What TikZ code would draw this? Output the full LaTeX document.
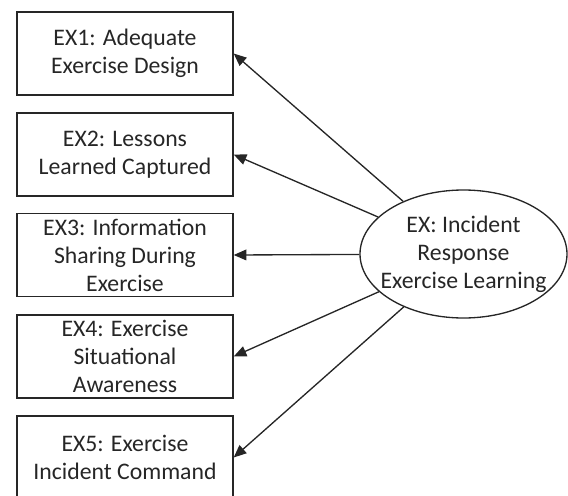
\documentclass[tikz,border=0pt]{standalone}
\usepackage{fontspec}
\setmainfont{Carlito}
\usetikzlibrary{shapes.geometric,arrows.meta}
\begin{document}
\begin{tikzpicture}[x=0.75pt,y=-0.75pt]
	\tikzstyle{indicator} = [draw=black!85, line width=1pt, minimum width=162pt, minimum height=62.25pt, inner sep=0, align=center, text=black!85, font=\fontsize{17.8}{21}\selectfont]
	\tikzstyle{latent} = [draw=black!85, line width=1pt, shape=ellipse, minimum width=155.25pt, minimum height=96pt, inner xsep=-8.6pt, inner ysep=0, align=center, text=black!85, font=\fontsize{17.8}{21}\selectfont]
	\tikzstyle{loading} = [-{Triangle[length=9.5pt,width=8pt]}, line width=1pt, black!85]

	\useasboundingbox (0,0) rectangle (568,496);

	\node [indicator] (ex1) at (125,53.5) {EX1: Adequate\\Exercise Design};
	\node [indicator] (ex2) at (125,154.5) {EX2: Lessons\\Learned Captured};
	\node [indicator] (ex3) at (125,255) {EX3: Information\\Sharing During\\Exercise};
	\node [indicator] (ex4) at (125,356.5) {EX4: Exercise\\Situational\\Awareness};
	\node [indicator] (ex5) at (125,457.5) {EX5: Exercise\\Incident Command};

	\node [latent] (ex) at (463.5,254) {EX: Incident\\Response\\Exercise Learning};

	\foreach \i in {1,...,5}
	{
		\draw [loading] (ex) -- (ex\i.east);
	}
\end{tikzpicture}
\end{document}
